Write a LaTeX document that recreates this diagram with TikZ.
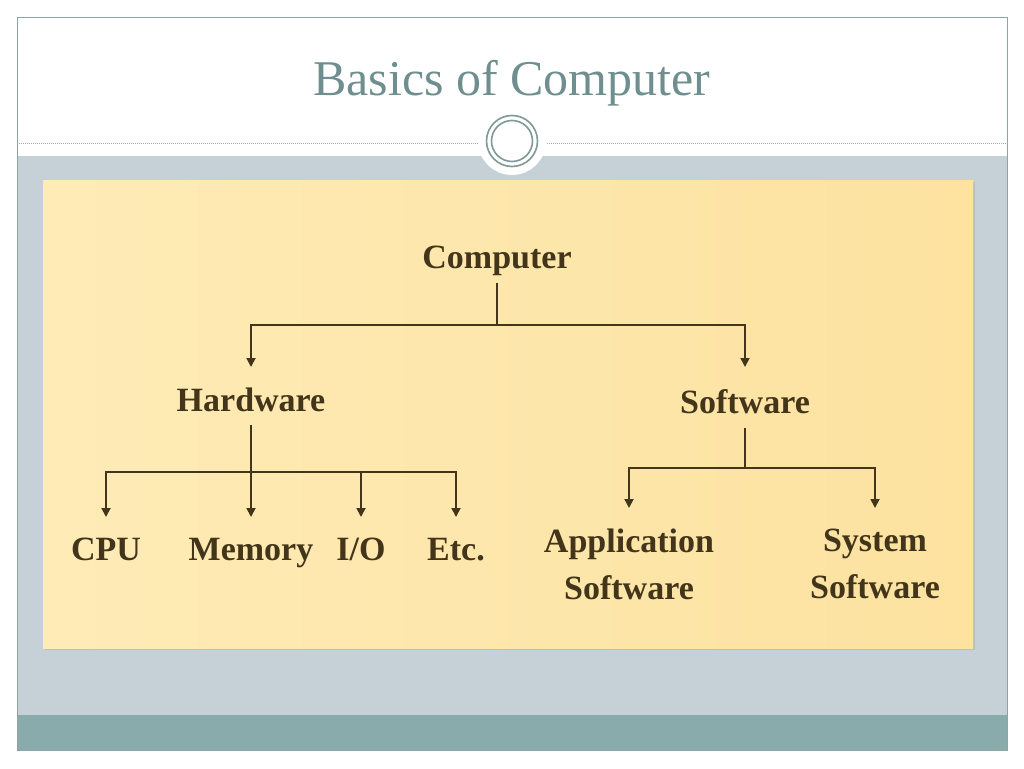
\documentclass[tikz,border=0pt]{standalone}
\usepackage{fontspec}
\setmainfont{Liberation Serif}
\usetikzlibrary{arrows.meta}
\definecolor{bandgray}{HTML}{C5D0D7}
\definecolor{footteal}{HTML}{8AABAB}
\definecolor{framec}{HTML}{8FA5A5}
\definecolor{titlec}{HTML}{6F8E8F}
\definecolor{ringc}{HTML}{7F9898}
\definecolor{dotc}{HTML}{9AACAC}
\definecolor{panelL}{HTML}{FEEBB6}
\definecolor{panelR}{HTML}{FDE2A0}
\definecolor{shadowc}{HTML}{B8C0C2}
\definecolor{inkc}{HTML}{43351A}
\tikzset{
  lbl/.style={font=\fontsize{34}{47}\selectfont\bfseries, text=inkc, inner sep=0pt, align=center},
  conn/.style={draw=inkc, line width=1.8pt},
  arr/.style={conn, -{Triangle[width=9pt,length=9pt]}},
}
\begin{document}
\begin{tikzpicture}[x=1pt,y=-1pt]
\useasboundingbox (0,0) rectangle (1024,768);
\fill[white] (0,0) rectangle (1024,768);
% bands
\fill[bandgray] (17,156) rectangle (1007,715);
\fill[footteal] (17,715) rectangle (1007,750);
\draw[framec, line width=0.8pt] (17,17) rectangle (1007,750);
\draw[dotc, line width=1pt, dash pattern=on 1pt off 1pt] (17,143) -- (1007,143);
% emblem
\fill[white] (512,141) circle (34pt);
\draw[ringc, line width=1.6pt] (512,141) circle (25.5pt);
\draw[ringc, line width=1.6pt] (512,141) circle (20.5pt);
% title
\node[font=\fontsize{50}{60}\selectfont, text=titlec, anchor=base, inner sep=0pt] (title) at (512,95) {Basics of Computer};
% panel
\fill[shadowc] (45,182) rectangle (975,650);
\shade[left color=panelL, right color=panelR] (43,180) rectangle (973,648);
% tree nodes
\node[lbl, anchor=base] (comp) at (497,268) {Computer};
\node[lbl, anchor=base] (hw) at (251,411) {Hardware};
\node[lbl, anchor=base] (sw) at (745,413) {Software};
\node[lbl, anchor=base] (cpu) at (106,560) {CPU};
\node[lbl, anchor=base] (mem) at (251,560) {Memory};
\node[lbl, anchor=base] (io) at (361,560) {I/O};
\node[lbl, anchor=base] (etc) at (456,560) {Etc.};
\node[lbl, anchor=north] (app) at (629,529) {Application\\Software};
\node[lbl, anchor=north] (sys) at (875,529) {System\\Software};
% junctions
\coordinate (cj) at (497,325);
\coordinate (hj) at (251,472);
\coordinate (sj) at (745,468);
% connectors
\draw[conn] ([yshift=-15pt]comp.base) -- (cj);
\draw[arr] (cj) -| ([yshift=44pt]hw.base);
\draw[arr] (cj) -| ([yshift=46pt]sw.base);
\draw[conn] ([yshift=-14pt]hw.base) -- (hj);
\draw[arr] (hj) -| ([yshift=43pt]cpu.base);
\draw[arr] (hj) -| ([yshift=43pt]mem.base);
\draw[arr] (hj) -| ([yshift=43pt]io.base);
\draw[arr] (hj) -| ([yshift=43pt]etc.base);
\draw[conn] ([yshift=-15pt]sw.base) -- (sj);
\draw[arr] (sj) -| ([yshift=21pt]app.north);
\draw[arr] (sj) -| ([yshift=21pt]sys.north);
\end{tikzpicture}
\end{document}
